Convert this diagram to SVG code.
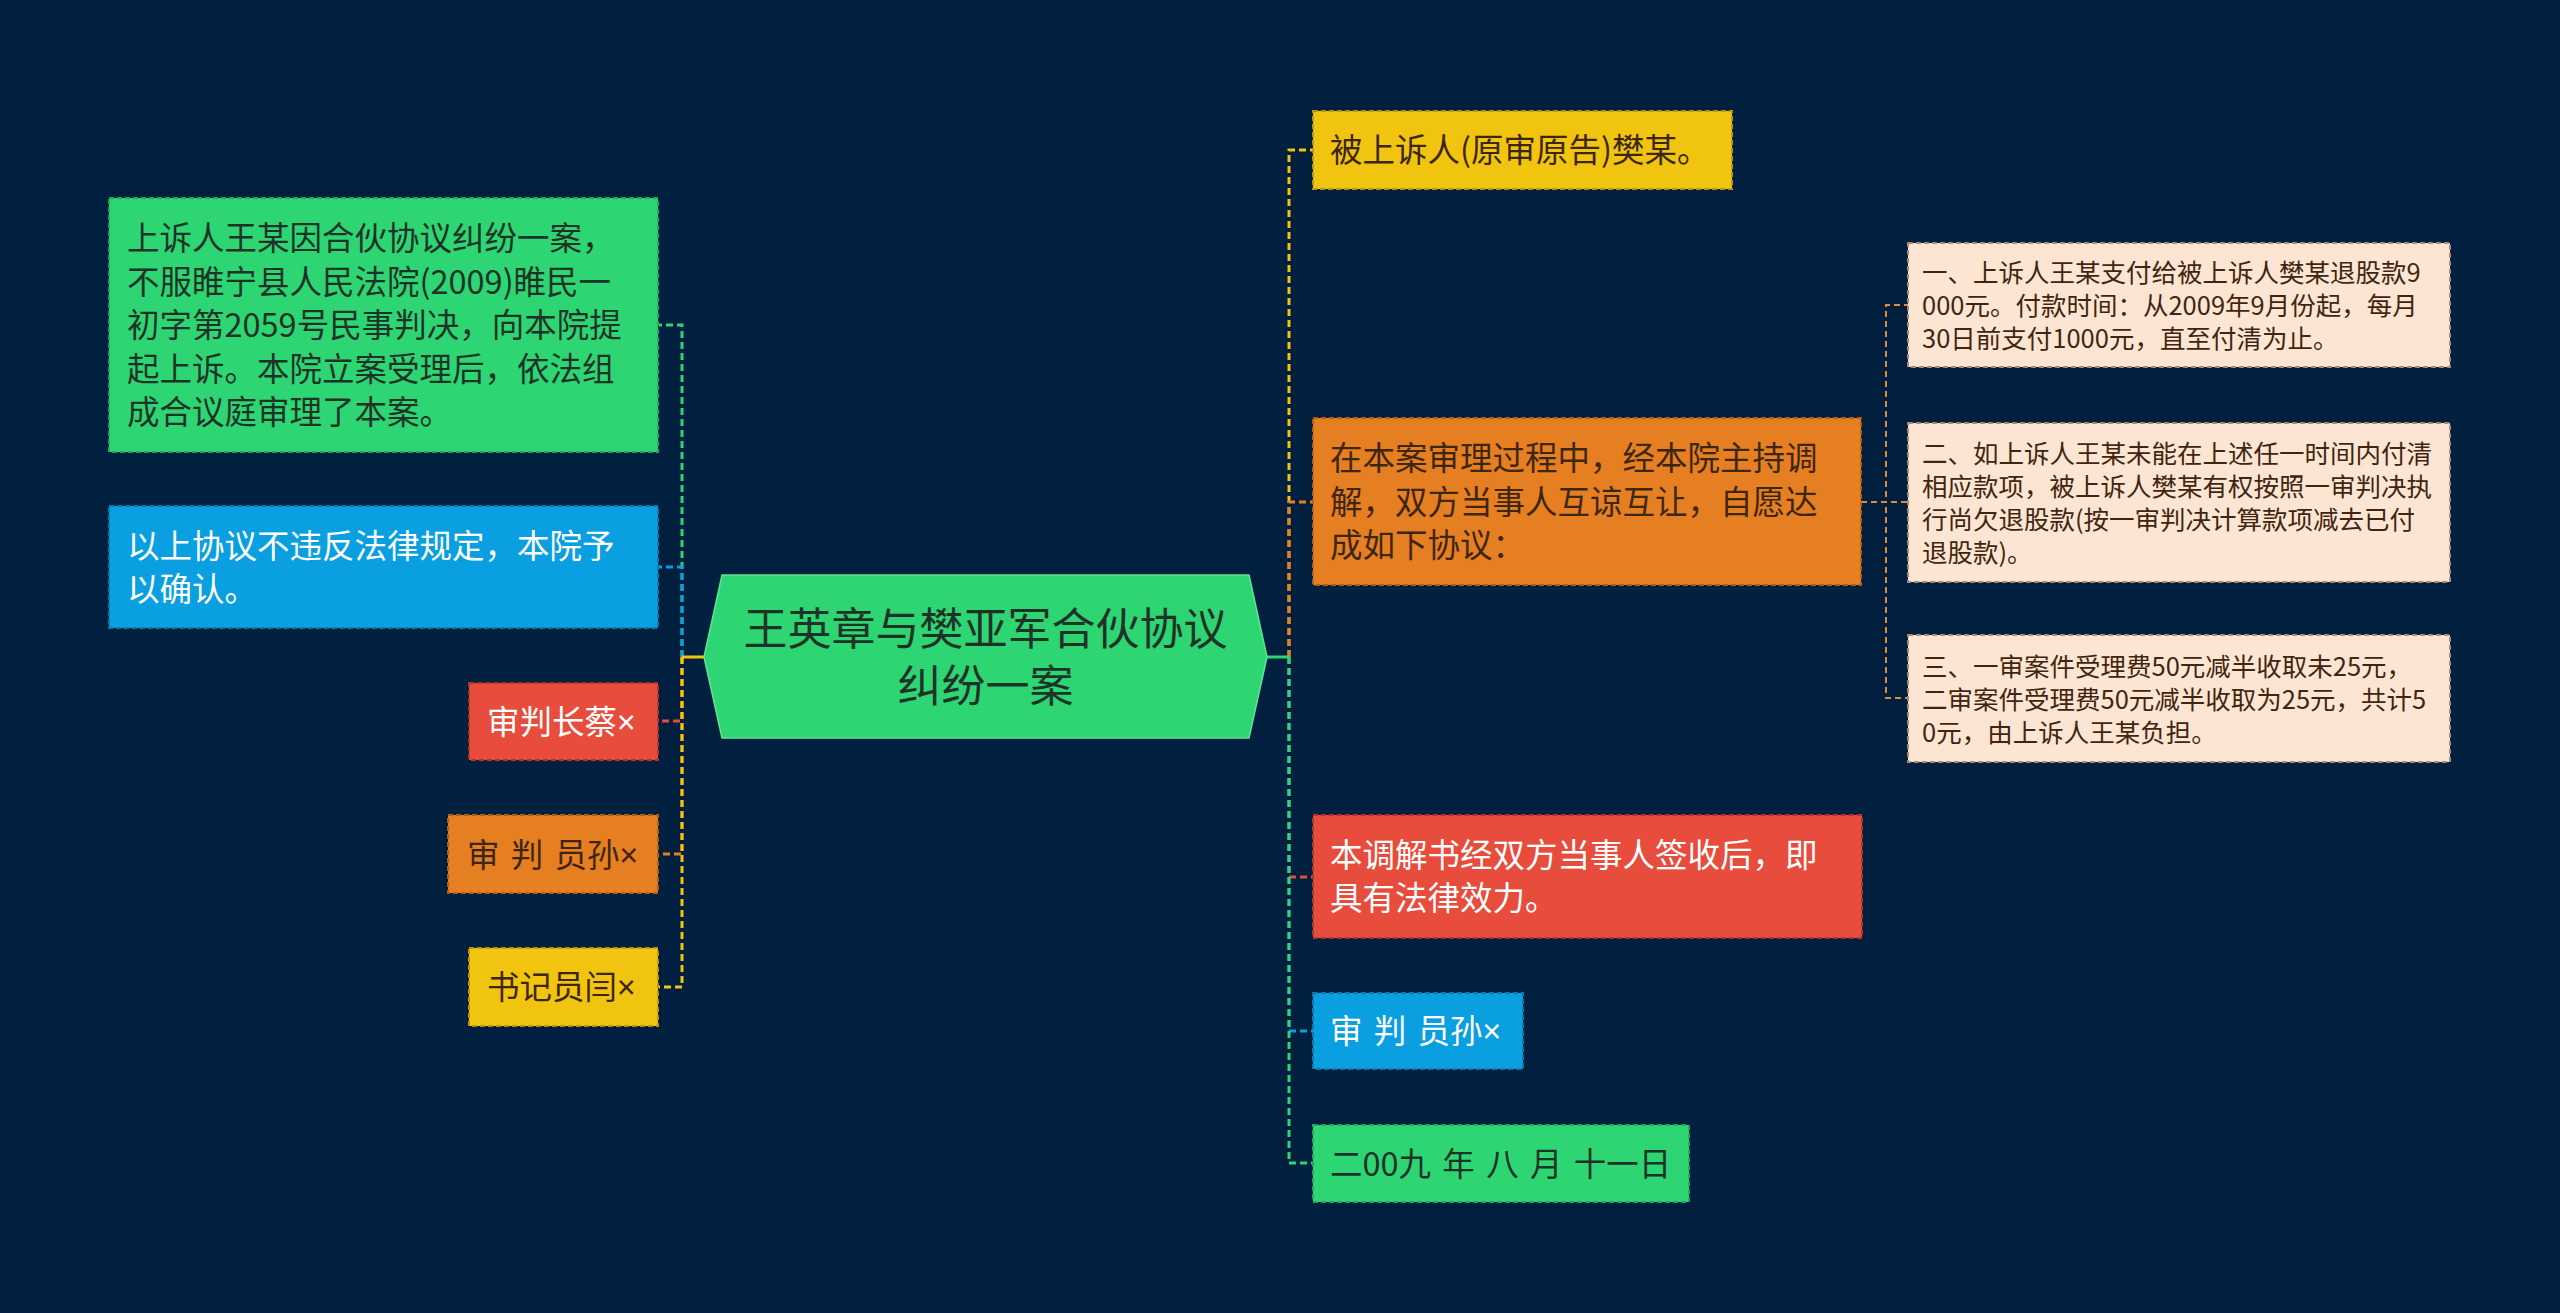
<svg xmlns="http://www.w3.org/2000/svg" width="2560" height="1313" viewBox="0 0 2560 1313">
<style>
.t{font-family:"Noto Sans CJK SC","Microsoft YaHei","Noto Sans",sans-serif}
.x{font-family:"Noto Sans","Liberation Sans",sans-serif}
.t2{font-size:32.5px}
.t3{font-size:25.5px}
.box{stroke-width:2;stroke-dasharray:5 3}
.green{fill:#2ed573;stroke:#22a75a}
.blue{fill:#099fe0;stroke:#0a78ad}
.red{fill:#e74c3c;stroke:#b53226}
.orange{fill:#e67e22;stroke:#b15d13}
.yellow{fill:#f1c40f;stroke:#b8950a}
.beige{fill:#fce6d3;stroke:#a98a74}
.dk{fill:#1e3328}
.br{fill:#3d2612}
.bz{fill:#42250f}
.wt{fill:#ffffff}
.c{fill:none;stroke-width:3;stroke-dasharray:7 4}
.c3{fill:none;stroke-width:2;stroke-dasharray:6 4;stroke:#e08a3a}
</style>
<rect x="0" y="0" width="2560" height="1313" fill="#01203f"/>
<g id="connectors">
<path class="c" stroke="#2ed573" d="M682 657 V325 H659"/>
<path class="c" stroke="#099fe0" d="M682 657 V567 H659"/>
<path class="c" stroke="#e74c3c" d="M682 657 V721 H659"/>
<path class="c" stroke="#e67e22" d="M682 657 V854 H659"/>
<path class="c" stroke="#f1c40f" d="M682 657 V987 H659"/>
<path fill="none" stroke="#f1c40f" stroke-width="3" d="M704 657 H682"/>
<path class="c" stroke="#f1c40f" d="M1289 657 V150 H1313"/>
<path class="c" stroke="#e67e22" d="M1289 657 V502 H1313"/>
<path class="c" stroke="#e74c3c" d="M1289 657 V877 H1313"/>
<path class="c" stroke="#099fe0" d="M1289 657 V1031 H1313"/>
<path class="c" stroke="#2ed573" d="M1289 657 V1163 H1313"/>
<path fill="none" stroke="#2ed573" stroke-width="3" d="M1267 657 H1289"/>
<path class="c3" d="M1861 502 H1886 V305 H1908"/>
<path class="c3" d="M1861 502 H1908"/>
<path class="c3" d="M1861 502 H1886 V698 H1908"/>
</g>
<g id="center">
<polygon points="722,575 1249,575 1267,657 1249,738 722,738 704,657" fill="#2ed573" stroke="#5ee597" stroke-width="1.5"/>
<text class="t dk" font-size="44" text-anchor="middle"><tspan x="985.5" y="645">王英章与樊亚军合伙协议</tspan><tspan x="985.5" y="702">纠纷一案</tspan></text>
</g>
<g id="L1">
<rect class="box green" x="109" y="198" width="549" height="254"/>
<text class="t t2 dk"><tspan x="127" y="250">上诉人王某因合伙协议纠纷一案，</tspan><tspan x="127" y="293.5">不服睢宁县人民法院(2009)睢民一</tspan><tspan x="127" y="337">初字第2059号民事判决，向本院提</tspan><tspan x="127" y="380.5">起上诉。本院立案受理后，依法组</tspan><tspan x="127" y="424">成合议庭审理了本案。</tspan></text>
</g>
<g id="L2">
<rect class="box blue" x="109" y="506" width="549" height="122"/>
<text class="t t2 wt"><tspan x="127" y="558">以上协议不违反法律规定，本院予</tspan><tspan x="127" y="601">以确认。</tspan></text>
</g>
<g id="L3">
<rect class="box red" x="469" y="683" width="189" height="77"/>
<text class="t t2 wt" x="487" y="733.5">审判长蔡<tspan class="x">×</tspan></text>
</g>
<g id="L4">
<rect class="box orange" x="448" y="815" width="210" height="78"/>
<text class="t t2 br" x="467" y="866.5" word-spacing="4" xml:space="preserve">审 判 员孙<tspan class="x">×</tspan></text>
</g>
<g id="L5">
<rect class="box yellow" x="469" y="948" width="189" height="78"/>
<text class="t t2 br" x="487" y="999">书记员闫<tspan class="x">×</tspan></text>
</g>
<g id="R1">
<rect class="box yellow" x="1313" y="111" width="419" height="78"/>
<text class="t t2 br" x="1330" y="162">被上诉人(原审原告)樊某。</text>
</g>
<g id="R2">
<rect class="box orange" x="1313" y="418" width="548" height="167"/>
<text class="t t2 br"><tspan x="1330" y="470">在本案审理过程中，经本院主持调</tspan><tspan x="1330" y="513.5">解，双方当事人互谅互让，自愿达</tspan><tspan x="1330" y="557">成如下协议：</tspan></text>
</g>
<g id="R2a">
<rect class="box beige" x="1908" y="243" width="542" height="124"/>
<text class="t t3 bz"><tspan x="1922" y="282">一、上诉人王某支付给被上诉人樊某退股款9</tspan><tspan x="1922" y="315">000元。付款时间：从2009年9月份起，每月</tspan><tspan x="1922" y="348">30日前支付1000元，直至付清为止。</tspan></text>
</g>
<g id="R2b">
<rect class="box beige" x="1908" y="423" width="542" height="159"/>
<text class="t t3 bz"><tspan x="1922" y="463">二、如上诉人王某未能在上述任一时间内付清</tspan><tspan x="1922" y="496">相应款项，被上诉人樊某有权按照一审判决执</tspan><tspan x="1922" y="529">行尚欠退股款(按一审判决计算款项减去已付</tspan><tspan x="1922" y="562">退股款)。</tspan></text>
</g>
<g id="R2c">
<rect class="box beige" x="1908" y="635" width="542" height="127"/>
<text class="t t3 bz"><tspan x="1922" y="676">三、一审案件受理费50元减半收取未25元，</tspan><tspan x="1922" y="709">二审案件受理费50元减半收取为25元，共计5</tspan><tspan x="1922" y="742">0元，由上诉人王某负担。</tspan></text>
</g>
<g id="R3">
<rect class="box red" x="1313" y="815" width="549" height="123"/>
<text class="t t2 wt"><tspan x="1330" y="866.5">本调解书经双方当事人签收后，即</tspan><tspan x="1330" y="910">具有法律效力。</tspan></text>
</g>
<g id="R4">
<rect class="box blue" x="1313" y="993" width="210" height="76"/>
<text class="t t2 wt" x="1330" y="1043" word-spacing="4" xml:space="preserve">审 判 员孙<tspan class="x">×</tspan></text>
</g>
<g id="R5">
<rect class="box green" x="1313" y="1125" width="376" height="77"/>
<text class="t t2 dk" x="1330" y="1175.5" word-spacing="4" xml:space="preserve">二00九 年 八 月 十一日</text>
</g>
</svg>
